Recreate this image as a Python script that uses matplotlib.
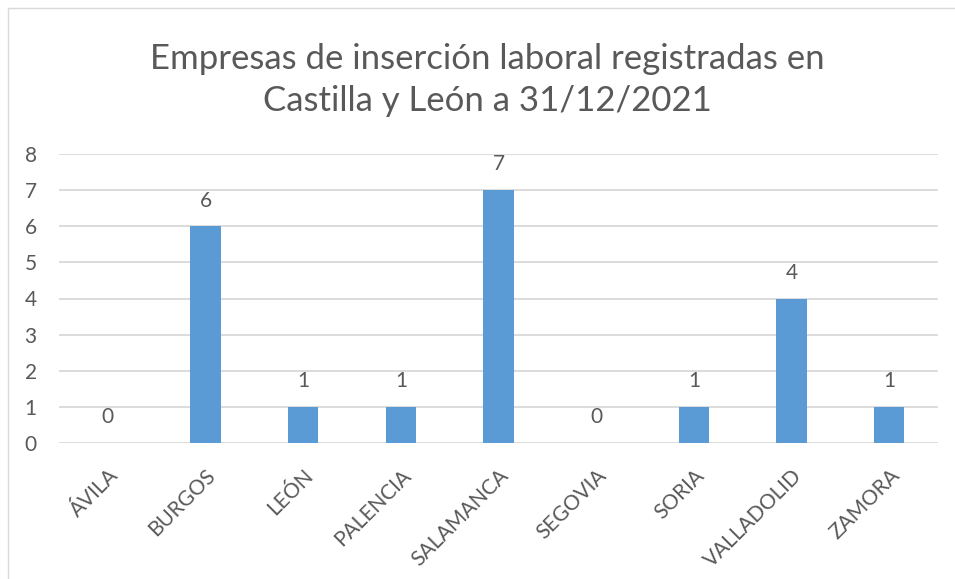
import matplotlib
matplotlib.use("Agg")
import matplotlib.pyplot as plt
from matplotlib.patches import Rectangle

provincias = ["ÁVILA", "BURGOS", "LEÓN", "PALENCIA", "SALAMANCA",
              "SEGOVIA", "SORIA", "VALLADOLID", "ZAMORA"]
empresas = [0, 6, 1, 1, 7, 0, 1, 4, 1]
y_ticks = [0, 1, 2, 3, 4, 5, 6, 7, 8]

text_col = "#595959"
grid_col = "#D9D9D9"
bar_col = "#5B9BD5"

plt.rcParams["font.family"] = ["Lato", "DejaVu Sans"]

fig = plt.figure(figsize=(9.55, 5.79), dpi=100)
fig.patches.append(Rectangle((8 / 955, -0.1), 1.2, 1 - 8 / 579 + 0.1,
                             transform=fig.transFigure, fill=False,
                             edgecolor=grid_col, linewidth=1.0))

ax = fig.add_axes([59 / 955, 1 - 443 / 579, (938 - 59) / 955, (443 - 154) / 579])
x = range(len(provincias))
ax.bar(x, empresas, width=0.31, color=bar_col, zorder=3)

for xi, v in zip(x, empresas):
    ax.annotate(str(v), (xi, v), xytext=(0, 18.5), textcoords="offset points",
                ha="center", va="center", fontsize=15, color=text_col)

ax.set_xlim(-0.5, len(provincias) - 0.5)
ax.set_ylim(0, 8)
ax.set_yticks(y_ticks)
ax.set_xticks(list(x))
ax.set_xticklabels(provincias, rotation=45, ha="right", rotation_mode="anchor")
ax.tick_params(axis="both", length=0, labelsize=15, colors=text_col)
ax.tick_params(axis="y", pad=16)
ax.tick_params(axis="x", pad=16)
ax.grid(axis="y", color=grid_col, linewidth=1.3, zorder=0)
for s in ax.spines.values():
    s.set_visible(False)

fig.text(0.51, 1 - 80 / 579, "Empresas de inserción laboral registradas en\nCastilla y León a 31/12/2021",
         ha="center", va="center", fontsize=25, color=text_col, linespacing=1.4)

fig.savefig("out.png", dpi=100)
